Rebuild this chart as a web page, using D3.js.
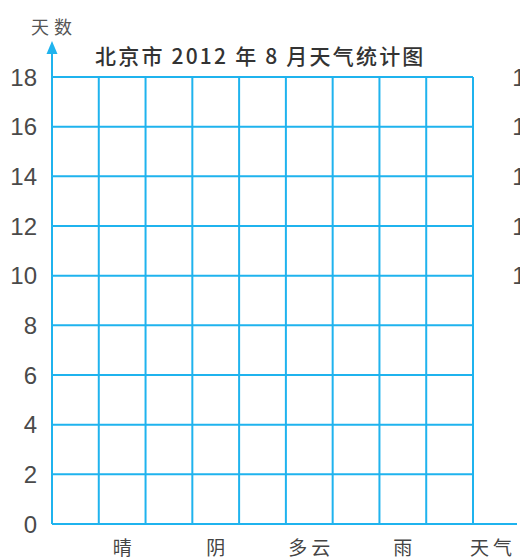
<!DOCTYPE html>
<html><head><meta charset="utf-8">
<script src="https://cdn.jsdelivr.net/npm/d3@7/dist/d3.min.js"></script>
<style>
html,body{margin:0;padding:0;background:#fff;}
svg{display:block;}
</style></head>
<body>
<svg id="chart" width="520" height="559"></svg>
<script>
// Data (empty exercise chart: no values filled in)
const title = "北京市 2012 年 8 月天气统计图";
const yLabel = "天数";
const xLabel = "天气";
const columns = ["c0","晴","c2","阴","c4","多云","c6","雨","c8"];
const categories = ["晴","阴","多云","雨"];
const values = [null, null, null, null];
const yTicks = [0,2,4,6,8,10,12,14,16,18];
const sideTicks = [10,12,14,16,18];

const blue = "#1fb3ee";
const svg = d3.select("#chart");
const mLeft = 52, mRight = 473, mTop = 77, mBottom = 524;

const x = d3.scaleBand().domain(columns).range([mLeft, mRight]).padding(0);
const y = d3.scaleLinear().domain([0, 18]).range([mBottom, mTop]);

const g = svg.append("g");

// horizontal grid lines
g.selectAll("line.h").data(yTicks).join("line")
  .attr("x1", mLeft).attr("x2", mRight)
  .attr("y1", d => y(d)).attr("y2", d => y(d))
  .attr("stroke", blue).attr("stroke-width", 2);

// vertical grid lines
const xEdges = columns.map(c => x(c)).concat([x(columns[columns.length-1]) + x.bandwidth()]);
g.selectAll("line.v").data(xEdges).join("line")
  .attr("x1", d => d).attr("x2", d => d)
  .attr("y1", y(18)).attr("y2", y(0))
  .attr("stroke", blue).attr("stroke-width", 2);

// x axis extended
g.append("line").attr("x1", mLeft).attr("x2", 517).attr("y1", y(0)).attr("y2", y(0))
  .attr("stroke", blue).attr("stroke-width", 2);
// y axis with arrow
g.append("line").attr("x1", mLeft).attr("x2", mLeft).attr("y1", y(0)).attr("y2", 50)
  .attr("stroke", blue).attr("stroke-width", 2);
g.append("path").attr("d", `M${mLeft},41 L${mLeft-5.5},54 L${mLeft+5.5},54 Z`).attr("fill", blue);

// y tick labels
g.selectAll("text.yt").data(yTicks).join("text")
  .attr("x", 37).attr("y", d => y(d)).attr("dy", "0.36em")
  .attr("text-anchor", "end")
  .attr("font-family", "Liberation Sans, Arial, sans-serif")
  .attr("font-size", 24).attr("fill", "#4a4a4a")
  .text(d => d);

// neighbouring chart's tick labels cut off at the right edge (as in the reference)
g.selectAll("text.st").data(sideTicks).join("text")
  .attr("x", 539).attr("y", d => y(d)).attr("dy", "0.36em")
  .attr("text-anchor", "end")
  .attr("font-family", "Liberation Sans, Arial, sans-serif")
  .attr("font-size", 24).attr("fill", "#4a4a4a")
  .text(d => d);

// category labels
g.selectAll("text.cat").data(categories).join("text")
  .attr("x", d => x(d) + x.bandwidth()/2 + 2).attr("y", 555)
  .attr("text-anchor", "middle")
  .attr("font-family", "Noto Sans CJK SC, sans-serif")
  .attr("font-size", 19).attr("fill", "#444").attr("letter-spacing", 4)
  .text(d => d);

g.append("text").attr("x", 493).attr("y", 555).attr("text-anchor", "middle")
  .attr("font-family", "Noto Sans CJK SC, sans-serif")
  .attr("font-size", 19).attr("fill", "#444").attr("letter-spacing", 4)
  .text(xLabel);

g.append("text").attr("x", 54).attr("y", 34).attr("text-anchor", "middle")
  .attr("font-family", "Noto Sans CJK SC, sans-serif")
  .attr("font-size", 18).attr("fill", "#555").attr("letter-spacing", 5)
  .text(yLabel);

g.append("text").attr("x", 95).attr("y", 64)
  .attr("font-family", "Noto Sans CJK SC, sans-serif")
  .attr("font-size", 21).attr("font-weight", 500).attr("fill", "#333")
  .attr("letter-spacing", 2.2)
  .text(title);
</script>
</body></html>
